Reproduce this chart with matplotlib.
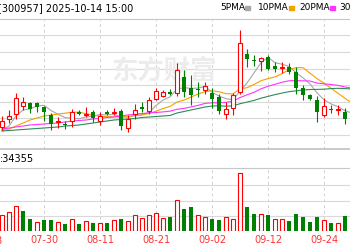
import numpy as np
import matplotlib
matplotlib.use('Agg')
import matplotlib.pyplot as plt
from matplotlib.patches import Rectangle

# K线数据（纵轴单位为图上的相对价位，无刻度）
dates = ['07-22', '07-23', '07-24', '07-25', '07-28', '07-29', '07-30', '07-31',
         '08-01', '08-04', '08-05', '08-06', '08-07', '08-08', '08-11', '08-12',
         '08-13', '08-14', '08-15', '08-18', '08-19', '08-20', '08-21', '08-22',
         '08-25', '08-26', '08-27', '08-28', '08-29', '09-01', '09-02', '09-03',
         '09-04', '09-05', '09-08', '09-09', '09-10', '09-11', '09-12', '09-15',
         '09-16', '09-17', '09-18', '09-19', '09-22', '09-23', '09-24', '09-25',
         '09-26', '09-29', '09-30']
open_ = [23, 31, 36.5, 44.5, 47.5, 47.5, 43, 35, 28, 26, 29, 38.5, 35, 38, 29, 38.5,
         37.5, 39, 22, 36, 43, 39, 51.5, 54.5, 58.5, 57, 73.5, 62, 61, 60, 57, 53.5,
         36.5, 42.5, 58.5, 96.5, 90.5, 89.5, 93.5, 84, 82.5, 83.5, 78.5, 62, 55.5, 50.5,
         35, 41.5, 40.5, 38.5, 33]
high = [34, 40, 57, 53, 48, 48, 44.5, 37, 33, 29, 41, 40, 43.5, 40, 38, 40.5,
        42, 41.5, 35, 46.5, 48.5, 53.5, 62.5, 60, 61.5, 87.5, 80, 75, 68, 68, 62, 56.5,
        48.5, 57.5, 120.5, 101.5, 95, 93.5, 95, 88.5, 88, 87.5, 83.5, 65, 56.5, 54,
        52, 45, 45, 42, 36]
low = [20, 27.5, 31, 40, 37, 38, 29, 20, 22, 21, 23.5, 35, 33.5, 28.5, 25, 35,
       35, 20, 18, 31.5, 38.5, 36.5, 50.5, 53, 55, 54, 53, 45, 53.5, 56.5, 42, 36,
       31, 35.5, 56.5, 83.5, 84, 79, 80, 78.5, 77, 76, 56.5, 50, 50, 28.5,
       33, 37.5, 35, 26.5, 24]
close = [29, 34.5, 52.5, 48, 41.5, 43, 38.5, 26.5, 29, 25, 38.5, 36.5, 36, 32, 34.5, 36.5,
         38.5, 24, 31.5, 40.5, 41, 50.5, 59, 58.5, 56.5, 80, 58, 55, 60, 64.5, 51, 39.5,
         41.5, 55, 107.5, 91.5, 89.5, 92.5, 81.5, 81.5, 83.5, 78.5, 62, 55.5, 51.5, 38,
         44.5, 40.5, 41.5, 31.5, 28]

ma5 = [20, 24, 34, 40, 41.1, 43.9, 44.7, 39.5, 35.7, 32.5, 31.6, 31.2, 33.1, 33.7, 35.5,
       35.1, 35.5, 33.1, 33, 34.2, 35.1, 37.5, 44.5, 49.9, 53.1, 60.9, 62.4, 61.6, 61.9,
       63.5, 57.7, 54, 51.3, 50.3, 59, 67, 77.1, 87.3, 92.6, 87.4, 85.8, 83.5, 77.4, 72.2,
       66.2, 57.1, 50.3, 46.1, 43.3, 39.3, 37]
ma10 = [19, 21, 24, 27, 30, 32, 34, 35, 36, 36.8, 37.7, 37.9, 36.3, 34.7, 34, 33.3, 33.3,
        33.1, 33.3, 34.8, 35.1, 36.5, 38.8, 41.4, 43.6, 48, 49.9, 53, 55.9, 58.3, 59.3,
        58.2, 56.4, 56.1, 61.2, 62.3, 65.5, 69.3, 71.4, 73.1, 76.4, 80.3, 82.3, 82.4, 76.8,
        71.4, 66.7, 61.8, 56.7, 51.7, 47]
ma20 = [21, 22, 23, 24, 25, 25.5, 26, 26.5, 27, 28, 29, 29.5, 30, 31, 31.7, 32.5, 33, 34,
        35, 35.8, 36.4, 37.2, 37.5, 38.1, 38.8, 40.7, 41.6, 43.1, 44.6, 46.6, 47.2, 47.3,
        47.6, 48.8, 52.4, 55.2, 57.7, 61.2, 63.7, 65.7, 67.8, 69.2, 69.4, 69.2, 69, 66.9,
        66.2, 65.5, 64.6, 63, 62]
ma30 = [19, 19.5, 20, 20.5, 21, 21.5, 22, 22.5, 23, 24, 24.5, 25, 26, 27, 28, 29, 30, 30.5,
        31, 31.5, 32.5, 33, 33.5, 34, 34.5, 37, 38.5, 40, 41.5, 43, 44, 44.2, 43.8, 44.1,
        46.3, 47.9, 49.6, 51.8, 53.6, 55.4, 56.9, 58.3, 59.2, 60, 60.5, 60.6, 60.8, 61.4,
        61.7, 61.4, 61]

volume = [16, 18.7, 25, 20, 12, 8.7, 11, 11, 8.7, 7.3, 12, 7.3, 9.7, 8.3, 8, 8.3, 10.7,
          12, 9.7, 15.7, 13, 15.7, 18, 13, 14, 30.7, 22, 24, 16, 13.7, 11.7, 11, 13.7,
          11.7, 57.7, 23.7, 16.7, 17, 15.7, 12, 12.3, 10, 16.7, 13.7, 9, 13.7, 11, 8.3,
          8.3, 15, 9.7]
vol_up = [1, 1, 1, 0, 0, 1, 0, 0, 1, 0, 1, 0, 1, 0, 1, 0, 1, 0, 1, 1, 1, 1, 1, 1, 0, 1,
          0, 0, 1, 1, 0, 0, 1, 1, 1, 0, 0, 1, 0, 1, 1, 0, 0, 0, 0, 0, 1, 0, 1, 0, 0]

tick_idx = [6, 14, 22, 30, 38, 46]
tick_lab = ['07-30', '08-11', '08-21', '09-02', '09-12', '09-24']
prev_tick = (-2, '07-18')

title = '[300957] 2025-10-14 15:00'
vol_text = ':34355'
ma_names = ['5PMA', '10PMA', '20PMA', '30PMA']
ma_colors = ['#a8a8a8', '#f5a000', '#ff33ff', '#2e8b57']

RED = '#ff0000'
GREEN = '#008000'

W, H = 350, 250


def box(x0, y0, x1, y1):
    return [x0 / W, 1 - y1 / H, (x1 - x0) / W, (y1 - y0) / H]


fig = plt.figure(figsize=(3.5, 2.5), dpi=100)
ax = fig.add_axes(box(0, 19, 350, 149))
axv = fig.add_axes(box(0, 168, 350, 231))

x = np.arange(len(dates))
xlim = (-2 / 7, 348 / 7)
w = 0.64

# 均线
for m, c in zip([ma5, ma10, ma20, ma30], ma_colors):
    ax.plot(x, m, color=c, lw=0.8, zorder=2)

# K线
for i in x:
    o, h, l, c = open_[i], high[i], low[i], close[i]
    if c >= o:
        ax.vlines(i, l, o, color=RED, lw=0.8, zorder=3)
        ax.vlines(i, c, h, color=RED, lw=0.8, zorder=3)
        ax.bar(i, max(c - o, 0.6), bottom=o, width=w, facecolor='white',
               edgecolor=RED, lw=0.8, zorder=4)
    else:
        ax.vlines(i, l, h, color=GREEN, lw=0.8, zorder=3)
        ax.bar(i, o - c, bottom=c, width=w, color=GREEN, lw=0, zorder=4)

ax.set_yticks(np.arange(15, 131, 16.6))
ax.set_xticks(tick_idx)
ax.set_xlim(*xlim)
ax.set_ylim(1, 131)
ax.tick_params(left=False, bottom=False, labelleft=False, labelbottom=False)
ax.grid(axis='y', color='#d9d9d9', lw=0.8)
ax.grid(axis='x', color='#d0d0d0', lw=0.7, ls=(0, (3, 3)))
for s in ['left', 'right']:
    ax.spines[s].set_visible(False)
ax.spines['top'].set_color('#c8c8c8')
ax.spines['bottom'].set_color('#c0c0c0')
ax.spines['bottom'].set_linewidth(1.2)
ax.set_axisbelow(True)

# 水印
ax.text(0.47, 0.6, '东方财富', transform=ax.transAxes, ha='center', va='center',
        fontsize=19, color='#ececec', fontweight='bold', style='italic',
        family=['Noto Sans CJK SC'], zorder=1)

# 成交量
for i in x:
    if vol_up[i]:
        axv.bar(i, volume[i], width=w, facecolor='white', edgecolor=RED, lw=0.8)
    else:
        axv.bar(i, volume[i], width=w, color=GREEN, lw=0)
axv.set_yticks([15, 30.5, 46])
axv.set_xticks(tick_idx)
axv.set_xticklabels(tick_lab, color='#ff3333', fontsize=7)
axv.set_xlim(*xlim)
axv.set_ylim(0, 63)
axv.tick_params(left=False, labelleft=False, length=0, pad=3)
axv.grid(axis='y', color='#d9d9d9', lw=0.8)
axv.grid(axis='x', color='#d0d0d0', lw=0.7, ls=(0, (3, 3)))
for s in ['left', 'right', 'bottom']:
    axv.spines[s].set_visible(False)
axv.spines['top'].set_color('#c8c8c8')
axv.set_axisbelow(True)
# 左边被截掉的日期
axv.text(prev_tick[0], -0.16, prev_tick[1], transform=axv.get_xaxis_transform(),
         ha='center', va='center', color='#ff3333', fontsize=7)

# 文字
fig.text(-2 / W, 1 - 8 / H, title, fontsize=7, va='center', ha='left')
fig.text(0, 1 - 159 / H, vol_text, fontsize=7, va='center', ha='left')

lx = [220, 258, 299, 339]
for name, c, px in zip(ma_names, ma_colors, lx):
    t = fig.text(px / W, 1 - 8 / H, name, fontsize=6.5, va='center', ha='left')
    fig.patches.append(Rectangle(((px + 6.2 * len(name)) / W, 1 - 9.5 / H), 5 / W, 3 / H,
                                 transform=fig.transFigure, color=c))

fig.savefig('out.png', dpi=100)
